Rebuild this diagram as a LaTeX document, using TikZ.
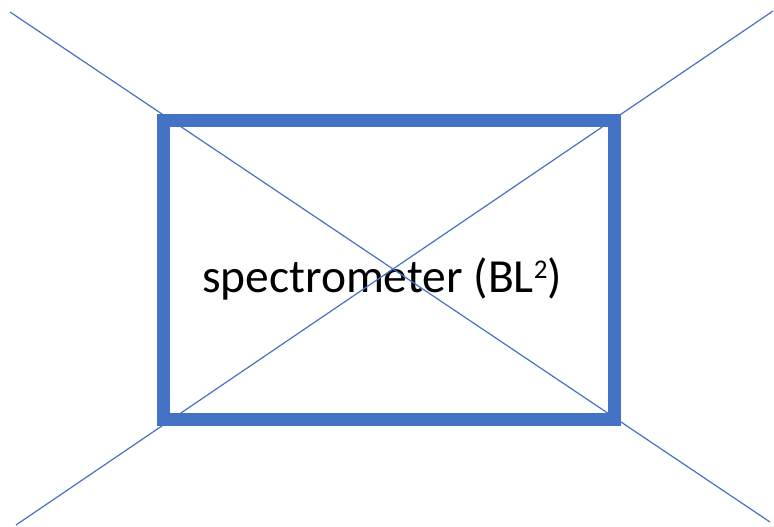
\documentclass[tikz,border=0pt]{standalone}
\usepackage{fontspec}
\setmainfont{Carlito}
\definecolor{obl}{HTML}{4472C4}
\newcommand{\mysup}[1]{\raisebox{14pt}{\fontsize{27}{27}\selectfont #1}}
\tikzset{
  diag/.style={draw=obl, line width=1.2pt},
  frame/.style={draw=obl, line width=13pt, minimum width=451pt, minimum height=299pt, inner sep=0pt},
  lbl/.style={font=\fontsize{47.5}{57}\selectfont, anchor=base, inner sep=0pt}
}
\begin{document}
\begin{tikzpicture}[x=1pt,y=-1pt]
\useasboundingbox (0,0) rectangle (774,527);
\node[lbl] (label) at (382,292) {spectrometer (BL\mysup{2})};
\coordinate (a1) at (10,12);
\coordinate (a2) at (770,522);
\coordinate (b1) at (773,11);
\coordinate (b2) at (16,525);
\draw[diag] (a1) -- (a2);
\draw[diag] (b1) -- (b2);
\node[frame] (box) at (389,270) {};
\end{tikzpicture}
\end{document}
